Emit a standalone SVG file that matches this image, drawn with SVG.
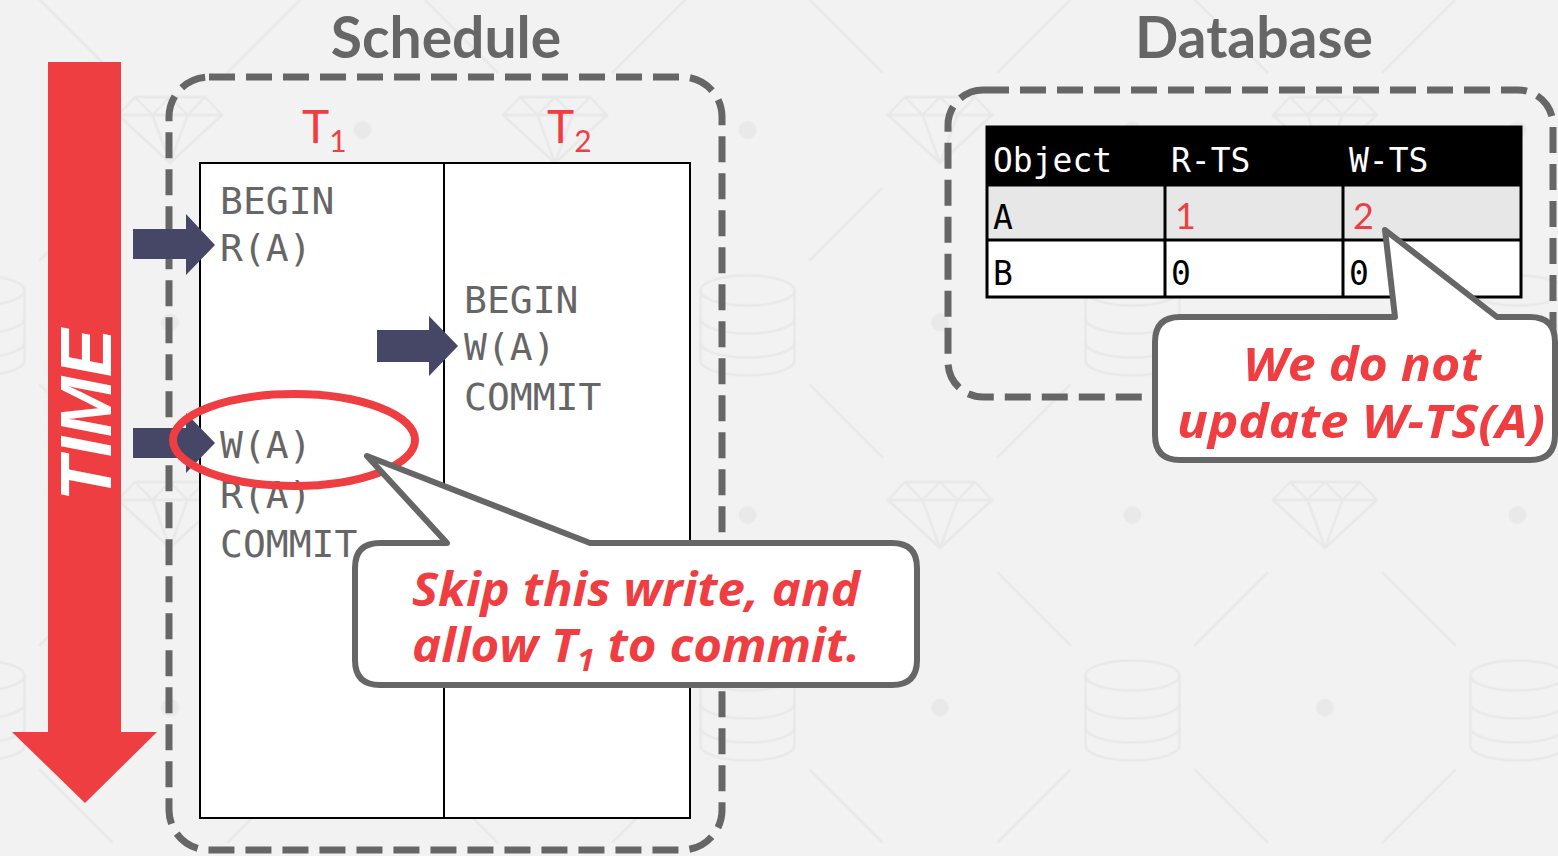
<svg xmlns="http://www.w3.org/2000/svg" xmlns:xlink="http://www.w3.org/1999/xlink" width="1558" height="856" viewBox="0 0 1558 856">
  <style>
    .bgline { fill: none; stroke: #e8e8e8; stroke-width: 2.5; stroke-linecap: round; stroke-linejoin: round; }
    .dot { fill: #e9e9e9; }
    .title { font-family: Lato, "Open Sans", sans-serif; font-weight: bold; font-size: 57px; fill: #666666; text-anchor: middle; }
    .dash { fill: none; stroke: #666666; stroke-width: 7; stroke-dasharray: 26 11; }
    .tx { font-family: Lato, "Open Sans", sans-serif; fill: #ef3e42; }
    .op { font-family: "DejaVu Sans Mono", "Liberation Mono", monospace; font-size: 38px; fill: #666666; }
    .step { fill: #464666; }
    .callout { fill: #ffffff; stroke: #666666; stroke-width: 6; stroke-linejoin: round; }
    .note { font-family: "Open Sans", "Liberation Sans", sans-serif; font-weight: bold; font-style: italic; fill: #ef3e42; text-anchor: middle; }
    .hdr { font-family: "DejaVu Sans Mono", "Liberation Mono", monospace; font-size: 33px; fill: #ffffff; }
    .cell { font-family: "DejaVu Sans Mono", "Liberation Mono", monospace; font-size: 33px; fill: #000000; }
    .ts { font-family: Lato, "Open Sans", sans-serif; font-size: 36px; fill: #ef3e42; }
    .grid { fill: none; stroke: #000000; stroke-width: 3; }
  </style>
  <defs>
    <!-- faint database cylinder used in the backdrop -->
    <g id="cyl" class="bgline">
      <ellipse cx="0" cy="-32" rx="47" ry="15"/>
      <path d="M -47 -32 V 38 A 47 15 0 0 0 47 38 V -32"/>
      <path d="M -47 -4 A 47 15 0 0 0 47 -4"/>
      <path d="M -47 20 A 47 15 0 0 0 47 20"/>
    </g>
    <!-- repeating backdrop: gem, dots, cylinders and diagonal strokes -->
    <pattern id="backdrop" patternUnits="userSpaceOnUse" x="-22.5" y="-62.5" width="385" height="385">
      <rect width="385" height="385" fill="#f2f2f2"/>
      <g class="bgline">
        <path d="M157.5 159.5 H227.5 L244.5 177.5 L192.5 225.5 L140.5 177.5 Z"/>
        <path d="M140.5 177.5 H244.5"/>
        <path d="M157.5 159.5 L175 177.5 L192.5 159.5 L210 177.5 L227.5 159.5"/>
        <path d="M175 177.5 L192.5 225.5 L210 177.5"/>
        <path d="M134.5 134.5 L62.5 62.5 M250.5 134.5 L322.5 62.5 M134.5 250.5 L62.5 322.5 M250.5 250.5 L322.5 322.5"/>
      </g>
      <circle class="dot" cx="0" cy="192.5" r="9"/>
      <circle class="dot" cx="385" cy="192.5" r="9"/>
      <circle class="dot" cx="192.5" cy="0" r="9"/>
      <circle class="dot" cx="192.5" cy="385" r="9"/>
      <use xlink:href="#cyl" x="0" y="0"/>
      <use xlink:href="#cyl" x="385" y="0"/>
      <use xlink:href="#cyl" x="0" y="385"/>
      <use xlink:href="#cyl" x="385" y="385"/>
    </pattern>
  </defs>

  <rect width="1558" height="856" fill="url(#backdrop)"/>

  <!-- time axis -->
  <g id="time-axis">
    <path d="M48 62 H121 V732 H157 L85 803 L12 732 H48 Z" fill="#ef3e42"/>
    <text transform="translate(111,415) rotate(-90)" text-anchor="middle" font-family="'Liberation Sans', Arial, sans-serif" font-weight="bold" font-style="italic" font-size="72" fill="#ffffff">TIME</text>
  </g>

  <!-- schedule panel -->
  <g id="schedule">
    <text class="title" x="446" y="58">Schedule</text>
    <rect class="dash" x="169" y="77" width="553" height="773" rx="40"/>
    <rect x="200" y="163" width="490" height="655" fill="#ffffff" stroke="#000000" stroke-width="2"/>
    <line x1="444" y1="163" x2="444" y2="818" stroke="#000000" stroke-width="2"/>
    <text class="tx" x="302" y="143" font-size="46">T<tspan font-size="30" dy="9">1</tspan></text>
    <text class="tx" x="547" y="143" font-size="46">T<tspan font-size="30" dy="9">2</tspan></text>
  </g>

  <g id="t1-ops">
    <text class="op" x="220" y="214">BEGIN</text>
    <text class="op" x="220" y="261">R(A)</text>
    <text class="op" x="220" y="458">W(A)</text>
    <text class="op" x="220" y="508">R(A)</text>
    <text class="op" x="220" y="557">COMMIT</text>
  </g>

  <g id="t2-ops">
    <text class="op" x="464" y="313">BEGIN</text>
    <text class="op" x="464" y="360">W(A)</text>
    <text class="op" x="464" y="410">COMMIT</text>
  </g>

  <!-- step markers -->
  <g id="markers">
    <path class="step" d="M133 229 H186 V214 L215 245 L186 275 V259 H133 Z"/>
    <path class="step" d="M377 330 H429 V316 L458 346 L429 376 V362 H377 Z"/>
    <path class="step" d="M133 428 H186 V413 L215 443 L186 473 V458 H133 Z"/>
  </g>

  <g id="highlight">
    <ellipse cx="294" cy="440" rx="121" ry="46" fill="none" stroke="#ef3e42" stroke-width="8"/>
  </g>

  <!-- database panel -->
  <g id="database">
    <text class="title" x="1254" y="58">Database</text>
    <rect class="dash" x="948" y="90" width="605" height="307" rx="35"/>
  </g>

  <g id="ts-table">
    <rect x="987" y="127" width="534" height="58" fill="#000000"/>
    <rect x="987" y="185" width="534" height="55" fill="#e7e7e7"/>
    <rect x="987" y="240" width="534" height="57" fill="#ffffff"/>
    <rect class="grid" x="987" y="127" width="534" height="170"/>
    <path class="grid" d="M987 185 H1521 M987 240 H1521 M1165 127 V297 M1343 127 V297"/>
    <text class="hdr" x="993" y="172">Object</text>
    <text class="hdr" x="1171" y="172">R-TS</text>
    <text class="hdr" x="1349" y="172">W-TS</text>
    <text class="cell" x="993" y="229">A</text>
    <text class="ts" x="1175" y="229">1</text>
    <text class="ts" x="1353" y="229">2</text>
    <text class="cell" x="993" y="285">B</text>
    <text class="cell" x="1171" y="285">0</text>
    <text class="cell" x="1349" y="285">0</text>
  </g>

  <!-- callouts -->
  <g id="note-skip">
    <path class="callout" d="M380 543 H447 L367 456 L590 543 H892 Q917 543 917 568 V660 Q917 685 892 685 H380 Q355 685 355 660 V568 Q355 543 380 543 Z"/>
    <text class="note" x="636" y="606" font-size="46" textLength="448" lengthAdjust="spacingAndGlyphs">Skip this write, and</text>
    <text class="note" x="636" y="662" font-size="46" textLength="448" lengthAdjust="spacingAndGlyphs">allow T<tspan font-size="30" dy="9">1</tspan><tspan dy="-9"> to commit.</tspan></text>
  </g>

  <g id="note-wts">
    <path class="callout" d="M1180 317 H1395 L1385 230 L1497 317 H1530 Q1555 317 1555 342 V435 Q1555 460 1530 460 H1180 Q1155 460 1155 435 V342 Q1155 317 1180 317 Z"/>
    <text class="note" x="1362" y="381" font-size="46" textLength="238" lengthAdjust="spacingAndGlyphs">We do not</text>
    <text class="note" x="1361" y="438" font-size="46" textLength="368" lengthAdjust="spacingAndGlyphs">update W-TS(A)</text>
  </g>
</svg>
